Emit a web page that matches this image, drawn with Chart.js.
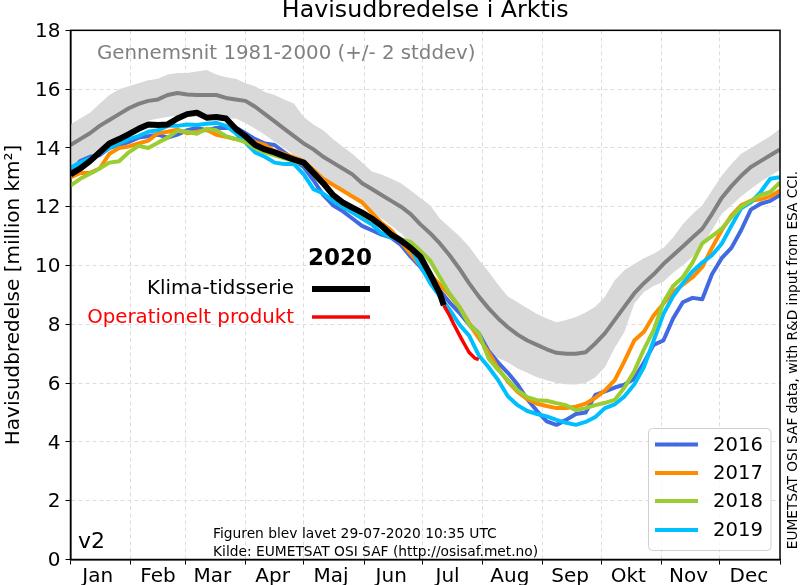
<!DOCTYPE html>
<html>
<head>
<meta charset="utf-8">
<style>body{margin:0;background:#fff}canvas{display:block}</style>
<script src="https://cdn.jsdelivr.net/npm/chart.js@4"></script>
</head>
<body>
<canvas id="myChart" width="800" height="585"></canvas>
<script>
// day of year, every 5 days
var days = [0,5,10,15,20,25,30,35,40,45,50,55,60,65,70,75,80,85,90,95,100,105,110,115,120,125,130,135,140,145,150,155,160,165,170,175,180,185,190,195,200,205,210,215,220,225,230,235,240,245,250,255,260,265,270,275,280,285,290,295,300,305,310,315,320,325,330,335,340,345,350,355,360,365];

var monthStarts = [0,31,59,90,120,151,181,212,243,273,304,334,365];
var monthLabels = ["Jan","Feb","Mar","Apr","Maj","Jun","Jul","Aug","Sep","Okt","Nov","Dec"];
var monthLabelDays = [14,45,73,104,134,165,194,226,257,287,318,349];
var yTicks = [0,2,4,6,8,10,12,14,16,18];

var mean = [14.1,14.3,14.5,14.75,14.95,15.15,15.35,15.5,15.6,15.65,15.8,15.87,15.82,15.8,15.8,15.8,15.7,15.65,15.6,15.4,15.15,14.9,14.65,14.4,14.15,13.95,13.7,13.5,13.3,13.1,12.8,12.6,12.4,12.2,12.0,11.75,11.4,11.1,10.75,10.35,9.9,9.4,8.95,8.55,8.2,7.9,7.65,7.45,7.3,7.15,7.03,7.0,7.0,7.05,7.35,7.7,8.15,8.6,9.05,9.4,9.7,10.05,10.35,10.65,10.95,11.25,11.75,12.3,12.7,13.05,13.35,13.55,13.75,13.95];
var upper = [14.8,15.0,15.2,15.5,15.8,16.0,16.1,16.2,16.3,16.35,16.5,16.55,16.55,16.6,16.65,16.5,16.4,16.35,16.2,16.1,15.9,15.8,15.65,15.5,15.05,14.8,14.6,14.3,14.05,13.8,13.5,13.2,13.1,12.95,12.8,12.55,12.3,12.05,11.6,11.3,11.0,10.65,10.2,9.8,9.35,8.95,8.75,8.55,8.35,8.2,8.07,8.15,8.25,8.4,8.6,8.95,9.5,9.85,10.05,10.25,10.4,10.6,10.95,11.4,11.75,12.05,12.55,13.05,13.45,13.8,14.0,14.2,14.4,14.65];
var lower = [13.3,13.5,13.7,14.0,14.15,14.3,14.55,14.75,14.93,15.0,15.05,15.1,15.05,15.05,15.0,15.0,15.0,15.0,14.85,14.65,14.45,14.2,14.0,13.75,13.6,13.3,13.0,12.8,12.6,12.35,12.1,11.85,11.6,11.35,11.1,10.75,10.35,10.0,9.5,8.95,8.3,7.85,7.4,7.05,6.85,6.7,6.5,6.35,6.2,6.1,6.0,5.96,5.95,6.0,6.2,6.55,7.2,7.75,8.7,9.1,9.3,9.45,9.75,10.0,10.3,10.7,11.2,11.75,12.05,12.35,12.6,12.85,13.05,13.25];

var y2016 = [13.2,13.55,13.7,13.75,14.0,14.1,14.2,14.35,14.4,14.45,14.35,14.45,14.6,14.68,14.6,14.68,14.68,14.7,14.5,14.3,14.15,14.1,13.85,13.6,13.35,12.9,12.4,12.05,11.85,11.6,11.35,11.2,11.05,10.95,10.7,10.3,9.95,9.5,9.15,8.75,8.4,8.0,7.7,7.1,6.7,6.35,5.95,5.45,5.05,4.7,4.58,4.75,4.95,5.0,5.6,5.72,5.85,5.95,6.15,6.7,7.3,7.45,8.2,8.75,8.9,8.85,9.7,10.25,10.6,11.2,11.9,12.1,12.2,12.4];
var y2017 = [13.0,13.15,13.15,13.3,13.8,14.0,14.05,14.15,14.25,14.5,14.55,14.62,14.5,14.55,14.62,14.45,14.38,14.3,14.35,14.2,14.1,13.9,13.8,13.68,13.55,13.25,12.95,12.75,12.55,12.35,12.15,11.8,11.45,11.2,10.8,10.4,10.0,9.7,9.35,9.0,8.6,8.05,7.55,7.05,6.5,6.05,5.7,5.45,5.3,5.22,5.15,5.15,5.2,5.3,5.5,5.75,6.1,6.75,7.45,7.75,8.3,8.7,9.1,9.35,9.6,9.95,10.6,11.2,11.7,12.05,12.2,12.25,12.35,12.55];
var y2018 = [12.72,12.95,13.12,13.3,13.5,13.55,13.85,14.07,14.0,14.18,14.35,14.58,14.55,14.48,14.65,14.6,14.4,14.3,14.2,14.0,13.85,13.75,13.65,13.55,13.45,13.1,12.75,12.4,12.1,11.95,11.75,11.55,11.35,11.1,10.9,10.8,10.5,10.17,9.6,9.05,8.6,8.0,7.7,6.85,6.45,6.1,5.75,5.52,5.42,5.4,5.32,5.25,5.08,5.15,5.25,5.33,5.43,5.85,6.4,7.15,7.8,8.75,9.3,9.6,10.1,10.75,11.0,11.25,11.65,12.0,12.2,12.4,12.5,12.83];
var y2019 = [13.33,13.5,13.65,13.8,14.0,14.15,14.3,14.4,14.55,14.6,14.75,14.75,14.8,14.78,14.82,14.85,14.75,14.5,14.18,13.85,13.7,13.5,13.45,13.45,13.1,12.6,12.45,12.2,12.0,11.8,11.6,11.4,11.1,10.95,10.85,10.6,10.0,9.4,8.95,8.5,8.0,7.62,6.95,6.55,6.1,5.55,5.25,5.05,4.95,4.87,4.75,4.65,4.58,4.68,4.85,5.15,5.28,5.55,5.95,6.55,7.45,8.35,8.95,9.4,9.8,10.1,10.35,10.74,11.35,11.95,12.15,12.5,12.95,13.0];

// 2020: climate series up to mid July, operational product after that
var klimaDays = [0,5,10,15,20,25,30,35,40,45,50,55,60,65,70,75,80,85,90,95,100,105,110,115,120,125,130,135,140,145,150,155,160,165,170,175,180,185,190,192];
var klima = [13.1,13.3,13.55,13.85,14.15,14.3,14.47,14.65,14.8,14.78,14.8,15.0,15.15,15.2,15.03,15.05,15.0,14.65,14.4,14.1,13.95,13.85,13.72,13.6,13.5,13.15,12.8,12.4,12.15,11.97,11.8,11.6,11.35,11.05,10.85,10.6,10.3,9.7,9.05,8.65];
var opDays = [192,195,197,201,205,208,210];
var op = [8.65,8.3,8.03,7.52,7.05,6.85,6.8];

function pairs(xs, ys){
  return xs.map(function(x, i){ return {x: x, y: ys[i]}; });
}
function line(label, xs, ys, color, width, order){
  return {label: label, data: pairs(xs, ys), borderColor: color, backgroundColor: color,
    borderWidth: width, pointRadius: 0, order: order, fill: false, borderJoinStyle: 'round'};
}

var yearLabels = ["2016","2017","2018","2019"];
var yearColors = ["#4169e1","#ff8c00","#9acd32","#00bfff"];

var FONT = '"DejaVu Sans"';

// frame, legend box and free text of the figure
var decorations = {
  id: 'decorations',
  afterDatasetsDraw: function(chart){
    var ctx = chart.ctx, a = chart.chartArea;
    ctx.save();
    ctx.strokeStyle = '#000';
    ctx.lineWidth = 1.5;
    ctx.strokeRect(a.left, a.top, a.right - a.left, a.bottom - a.top);

    function text(s, x, y, size, color, align, weight){
      ctx.font = (weight || 'normal') + ' ' + size + 'px ' + FONT;
      ctx.fillStyle = color;
      ctx.textAlign = align || 'left';
      ctx.textBaseline = 'middle';
      ctx.fillText(s, x, y);
    }
    function swatch(x1, x2, y, color, w){
      ctx.beginPath();
      ctx.moveTo(x1, y);
      ctx.lineTo(x2, y);
      ctx.strokeStyle = color;
      ctx.lineWidth = w;
      ctx.stroke();
    }

    text('Gennemsnit 1981-2000 (+/- 2 stddev)', 97, 53.5, 19.8, '#808080');
    text('2020', 372, 259.5, 23, '#000', 'right', 'bold');
    text('Klima-tidsserie', 294, 289, 19.8, '#000', 'right');
    text('Operationelt produkt', 294, 318, 19.8, '#ff0000', 'right');
    swatch(312, 370, 289, '#000', 6);
    swatch(312, 370, 317, '#ff0000', 3.5);
    text('v2', 78, 542, 22, '#000');
    text('Figuren blev lavet 29-07-2020 10:35 UTC', 213, 534, 13.8, '#000');
    text('Kilde: EUMETSAT OSI SAF (http://osisaf.met.no)', 213, 552, 13.8, '#000');

    // legend
    ctx.beginPath();
    ctx.roundRect(648.5, 428.5, 122.5, 122, 4);
    ctx.fillStyle = 'rgba(255,255,255,0.8)';
    ctx.fill();
    ctx.strokeStyle = '#d0d0d0';
    ctx.lineWidth = 1;
    ctx.stroke();
    var rows = [444.5, 473, 501, 530];
    yearLabels.forEach(function(lab, i){
      swatch(655, 698, rows[i], yearColors[i], 4);
      text(lab, 713, rows[i] + 1, 19.6, '#000');
    });

    // credit on the right side
    ctx.translate(793, 360);
    ctx.rotate(-Math.PI / 2);
    text('EUMETSAT OSI SAF data, with R&D input from ESA CCI.', 0, 0, 13.7, '#000', 'center');
    ctx.restore();
  }
};

var datasets = [
  {label: 'upper', data: pairs(days, upper), borderWidth: 0, pointRadius: 0, order: 20,
    backgroundColor: '#d9d9d9', fill: '+1'},
  {label: 'lower', data: pairs(days, lower), borderWidth: 0, pointRadius: 0, order: 21, fill: false},
  line('Gennemsnit', days, mean, '#808080', 4, 10),
  line('2016', days, y2016, yearColors[0], 4, 9),
  line('2017', days, y2017, yearColors[1], 4, 8),
  line('2019', days, y2019, yearColors[3], 4, 7),
  line('2018', days, y2018, yearColors[2], 4, 6),
  line('Operationelt produkt', opDays, op, '#ff0000', 3.5, 2),
  line('Klima-tidsserie', klimaDays, klima, '#000000', 6, 1)
];

function isLabelTick(v){ return monthLabelDays.indexOf(v) >= 0; }

var chart = new Chart('myChart', {
  type: 'line',
  data: {datasets: datasets},
  plugins: [decorations],
  options: {
    responsive: false,
    animation: false,
    parsing: true,
    layout: {padding: {right: 20, top: 0, left: 0, bottom: 0}},
    plugins: {
      legend: {display: false},
      tooltip: {enabled: false},
      title: {display: true, text: 'Havisudbredelse i Arktis', fullSize: false, color: '#000',
        font: {family: FONT, size: 23.7, weight: 'normal', lineHeight: 0.9},
        padding: {top: 0, bottom: 9}}
    },
    scales: {
      x: {
        type: 'linear', min: 0, max: 365,
        afterBuildTicks: function(s){
          s.ticks = monthStarts.concat(monthLabelDays).map(function(v){ return {value: v}; });
        },
        afterFit: function(s){ s.height = 25.5; },
        ticks: {
          autoSkip: false, maxRotation: 0, color: '#000', padding: 0,
          font: {family: FONT, size: 20},
          callback: function(v){
            var i = monthLabelDays.indexOf(v);
            return i >= 0 ? monthLabels[i] : '';
          }
        },
        grid: {
          color: function(c){ return c.tick && isLabelTick(c.tick.value) ? 'transparent' : '#dddddd'; },
          tickColor: function(c){ return c.tick && isLabelTick(c.tick.value) ? 'transparent' : '#000'; },
          tickLength: 5, tickBorderDash: [], lineWidth: 1
        },
        border: {display: true, color: '#000', width: 1.5, dash: [4, 3]}
      },
      y: {
        min: 0, max: 18,
        afterBuildTicks: function(s){
          s.ticks = yTicks.map(function(v){ return {value: v}; });
        },
        afterFit: function(s){ s.width = 70.5; },
        title: {display: true, text: 'Havisudbredelse [million km²]', color: '#000',
          font: {family: FONT, size: 20}, padding: {top: 2, bottom: 0}},
        ticks: {color: '#000', padding: 5, labelOffset: 1.5, font: {family: FONT, size: 20}},
        grid: {color: '#dddddd', tickColor: '#000', tickLength: 5, lineWidth: 1},
        border: {display: true, color: '#000', width: 1.5, dash: [4, 3]}
      }
    }
  }
});
</script>
</body>
</html>
